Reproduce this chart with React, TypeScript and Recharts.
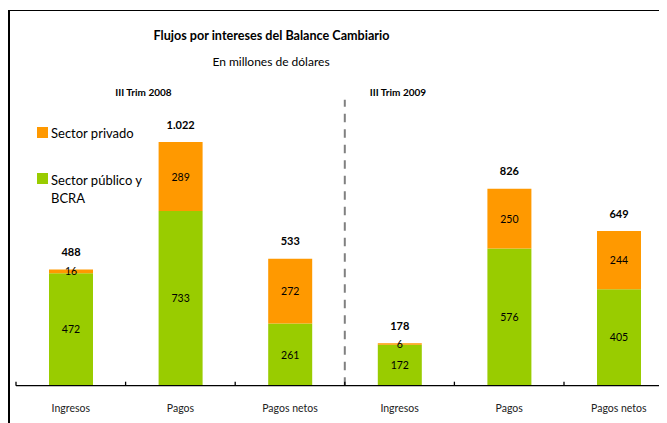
import React from 'react';
import { BarChart, Bar, XAxis, YAxis, LabelList, ReferenceLine } from 'recharts';

const periods = ['III Trim 2008', 'III Trim 2009'];
const categories = ['Ingresos', 'Pagos', 'Pagos netos', 'Ingresos', 'Pagos', 'Pagos netos'];
const categoryPeriod = [0, 0, 0, 1, 1, 1];
const publico = [472, 733, 261, 172, 576, 405];
const privado = [16, 289, 272, 6, 250, 244];
const totals = [488, 1022, 533, 178, 826, 649];

const data = categories.map((name, i) => ({
  key: `${periods[categoryPeriod[i]]} ${name}`,
  name,
  publico: publico[i],
  privado: privado[i],
  total: totals[i],
}));

const GREEN = '#99CC00';
const ORANGE = '#FF9900';
const FONT = 'Lato, "Open Sans", sans-serif';

const fmt = (v: number) => String(v).replace(/\B(?=(\d{3})+(?!\d))/g, '.');

const SegLabel = (props: any) => {
  const { x, y, width, height, value } = props;
  return (
    <text
      x={x + width / 2}
      y={y + height / 2}
      textAnchor="middle"
      dominantBaseline="central"
      fontSize={10.5}
      fontFamily={FONT}
      fill="#000"
    >
      {fmt(value)}
    </text>
  );
};

const TotalLabel = (props: any) => {
  const { x, y, width, value } = props;
  return (
    <text
      x={x + width / 2}
      y={y - 18}
      textAnchor="middle"
      dominantBaseline="central"
      fontSize={11}
      fontWeight="bold"
      fontFamily={FONT}
      fill="#000"
    >
      {fmt(value)}
    </text>
  );
};

const CatTick = (props: any) => {
  const { x, y, payload, index, width, visibleTicksCount } = props;
  const step = width / visibleTicksCount;
  const left = x - step / 2;
  const right = x + step / 2;
  const isLast = index === visibleTicksCount - 1;
  return (
    <g>
      <line x1={left} x2={left} y1={y - 4} y2={y} stroke="#000" strokeWidth={1.3} />
      {isLast && <line x1={right} x2={right} y1={y - 4} y2={y} stroke="#000" strokeWidth={1.3} />}
      <text
        x={x}
        y={y + 22}
        textAnchor="middle"
        dominantBaseline="central"
        fontSize={10.5}
        fontFamily={FONT}
        fill="#222"
      >
        {data[index] ? data[index].name : payload.value}
      </text>
    </g>
  );
};

export default function App() {
  return (
    <div style={{ position: 'relative', width: 659, height: 415, overflow: 'hidden', background: '#fff' }}>
      <div
        style={{
          position: 'absolute',
          left: 0,
          top: 1.5,
          width: 800,
          height: 600,
          borderTop: '1.8px solid #000',
          borderLeft: '2px solid #000',
        }}
      />
      <div style={{ position: 'absolute', left: 0, top: 0 }}>
        <BarChart
          width={670}
          height={415}
          data={data}
          margin={{ top: 91.7, right: 4.4, left: 8, bottom: 7.3 }}
          barSize={44}
        >
          <YAxis hide domain={[0, 1200]} />
          <XAxis
            dataKey="key"
            height={30}
            axisLine={{ stroke: '#000', strokeWidth: 1.3 }}
            tickLine={false}
            tickSize={0}
            tickMargin={0}
            interval={0}
            tick={<CatTick />}
          />
          <ReferenceLine
            x={data[3].key}
            position="start"
            stroke="#808080"
            strokeWidth={2}
            strokeDasharray="8.5 7"
          />
          <Bar dataKey="publico" stackId="a" fill={GREEN} isAnimationActive={false}>
            <LabelList dataKey="publico" content={<SegLabel />} />
          </Bar>
          <Bar dataKey="privado" stackId="a" fill={ORANGE} isAnimationActive={false}>
            <LabelList dataKey="privado" content={<SegLabel />} />
            <LabelList dataKey="total" content={<TotalLabel />} />
          </Bar>
        </BarChart>
      </div>
      <svg
        width={659}
        height={415}
        style={{ position: 'absolute', left: 0, top: 0, pointerEvents: 'none' }}
      >
        <text x={263.5} y={27} textAnchor="middle" dominantBaseline="central" fontFamily={FONT} fontWeight="bold" fontSize={12.6} fill="#000">
          Flujos por intereses del Balance Cambiario
        </text>
        <text x={263} y={53} textAnchor="middle" dominantBaseline="central" fontFamily={FONT} fontSize={12} fill="#000">
          En millones de dólares
        </text>
        <text x={135.5} y={84} textAnchor="middle" dominantBaseline="central" fontFamily={FONT} fontWeight="bold" fontSize={10} fill="#000">
          {periods[0]}
        </text>
        <text x={390} y={84} textAnchor="middle" dominantBaseline="central" fontFamily={FONT} fontWeight="bold" fontSize={10} fill="#000">
          {periods[1]}
        </text>
        <rect x={29} y={119} width={11} height={11} fill={ORANGE} />
        <text x={43} y={125} dominantBaseline="central" fontFamily={FONT} fontSize={13} fill="#000">
          Sector privado
        </text>
        <rect x={29} y={165} width={11} height={11} fill={GREEN} />
        <text x={43} y={172} dominantBaseline="central" fontFamily={FONT} fontSize={13} fill="#000">
          Sector público y
        </text>
        <text x={43} y={190} dominantBaseline="central" fontFamily={FONT} fontSize={13} fill="#000">
          BCRA
        </text>
      </svg>
    </div>
  );
}
